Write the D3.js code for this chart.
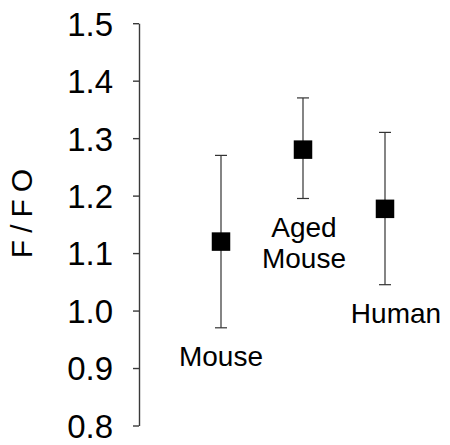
<!DOCTYPE html>
<html>
<head>
<meta charset="utf-8">
<script src="https://cdn.jsdelivr.net/npm/d3@7"></script>
<style>
  html, body { margin: 0; padding: 0; background: #fff; }
  svg { display: block; font-family: Arial, "Liberation Sans", sans-serif; }
</style>
</head>
<body>
<svg id="chart" width="450" height="445"></svg>
<script>
const categories = ["Mouse", "Aged Mouse", "Human"];
const labelLines = [["Mouse"], ["Aged", "Mouse"], ["Human"]];
const means = [1.12, 1.28, 1.177];
const upper = [1.27, 1.37, 1.31];
const lower = [0.97, 1.195, 1.045];
const yTicks = [0.8, 0.9, 1.0, 1.1, 1.2, 1.3, 1.4, 1.5];
const yTitle = "F/FO";

const svg = d3.select("#chart");
const axisX = 139;
const y = d3.scaleLinear().domain([0.8, 1.5]).range([425.5, 23.2]);
const x = d3.scalePoint().domain(categories).range([221, 385]);

// y axis
const yAxis = d3.axisLeft(y).tickValues(yTicks).tickFormat(d3.format(".1f")).tickSizeInner(6).tickSizeOuter(0).tickPadding(20);
const g = svg.append("g").attr("transform", `translate(${axisX},0)`).call(yAxis);
g.select(".domain").attr("stroke", "#3a3a3a").attr("stroke-width", 1.4);
g.selectAll(".tick line").attr("stroke", "#3a3a3a").attr("stroke-width", 1.4);
g.selectAll(".tick text").attr("font-size", 33).attr("fill", "#000").attr("dy", "0.36em")
  .attr("font-family", "Arial, 'Liberation Sans', sans-serif");

// y title
svg.append("text")
  .attr("transform", "translate(32,210) rotate(-90)")
  .attr("text-anchor", "middle")
  .attr("font-size", 30)
  .attr("letter-spacing", "7px")
  .attr("fill", "#000")
  .text(yTitle);

const data = categories.map((c, i) => ({ c, m: means[i], hi: upper[i], lo: lower[i], lines: labelLines[i] }));

// error bars
const cap = 6;
const eb = svg.append("g").attr("stroke", "#333").attr("stroke-width", 1.2);
data.forEach(d => {
  const cx = x(d.c);
  eb.append("line").attr("x1", cx).attr("x2", cx).attr("y1", y(d.hi)).attr("y2", y(d.lo));
  eb.append("line").attr("x1", cx - cap).attr("x2", cx + cap).attr("y1", y(d.hi)).attr("y2", y(d.hi));
  eb.append("line").attr("x1", cx - cap).attr("x2", cx + cap).attr("y1", y(d.lo)).attr("y2", y(d.lo));
});

// markers
const s = 18.5;
svg.append("g").selectAll("rect").data(data).join("rect")
  .attr("x", d => x(d.c) - s / 2)
  .attr("y", d => y(d.m) - s / 2)
  .attr("width", s).attr("height", s)
  .attr("fill", "#000");

// category labels
const labelDx = { "Mouse": 0, "Aged Mouse": 1, "Human": 11 };
data.forEach(d => {
  const t = svg.append("text")
    .attr("text-anchor", "middle")
    .attr("font-size", 28)
    .attr("fill", "#000");
  const base = y(d.lo) + 38.5;
  d.lines.forEach((ln, k) => {
    t.append("tspan").attr("x", x(d.c) + labelDx[d.c]).attr("y", base + k * 31).text(ln);
  });
});
</script>
</body>
</html>
